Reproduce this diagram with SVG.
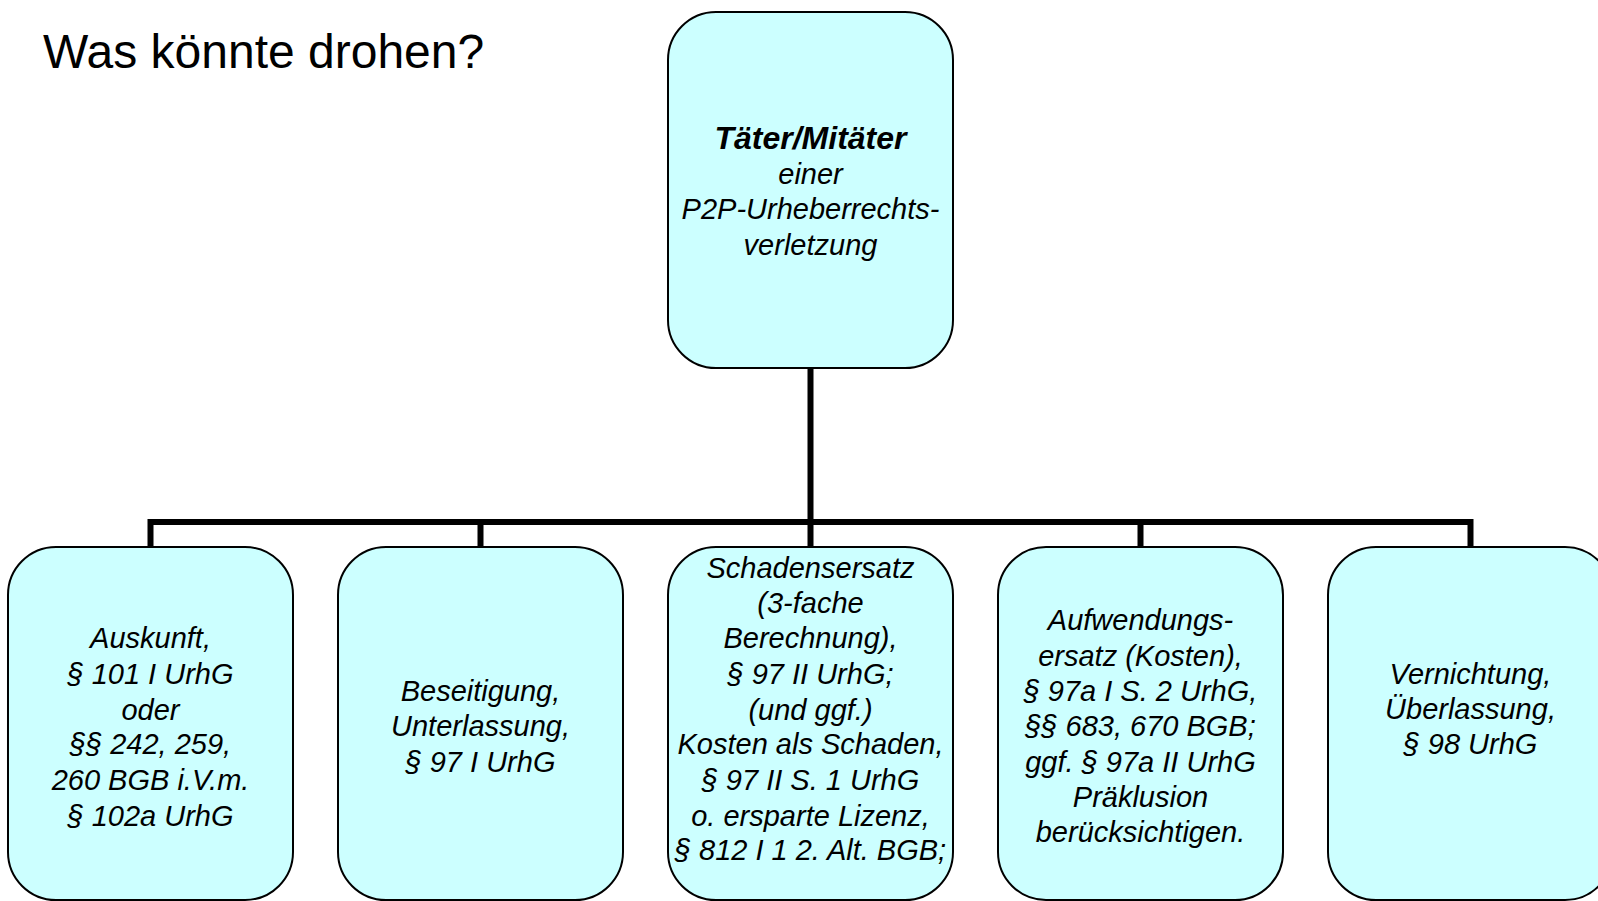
<svg xmlns="http://www.w3.org/2000/svg" width="1598" height="901" viewBox="0 0 1598 901">
<style>
.box{fill:#CCFFFF;stroke:#000;stroke-width:2}
.t{font-family:"Liberation Sans",Arial,sans-serif;font-size:29px;font-style:italic;text-anchor:middle;fill:#000}
.b{font-weight:bold;font-size:32px}
.title{font-family:"Liberation Sans",Arial,sans-serif;font-size:48px;fill:#000}
.c{fill:none;stroke:#000;stroke-width:6;stroke-linejoin:miter}
</style>
<rect width="1598" height="901" fill="#fff"/>
<text class="title" x="43" y="68">Was könnte drohen?</text>
<g id="connectors">
<path class="c" d="M810.5 368 V522"/>
<path class="c" d="M150.5 547 V522 H1470.5 V547"/>
<path class="c" d="M480.5 522 V547 M810.5 522 V547 M1140.5 522 V547"/>
</g>
<g id="root">
<rect class="box" x="668" y="12" width="285" height="356" rx="48"/>
<text class="t" x="810.5" y="148.5"><tspan class="b">Täter/Mitäter</tspan><tspan x="810.5" y="184">einer</tspan><tspan x="810.5" y="219">P2P-Urheberrechts-</tspan><tspan x="810.5" y="254.5">verletzung</tspan></text>
</g>
<g id="auskunft">
<rect class="box" x="8" y="547" width="285" height="353" rx="48"/>
<text class="t" x="150.5" y="648">Auskunft,<tspan x="150.5" y="684">§ 101 I UrhG</tspan><tspan x="150.5" y="720">oder</tspan><tspan x="150.5" y="754">§§ 242, 259,</tspan><tspan x="150.5" y="790">260 BGB i.V.m.</tspan><tspan x="150.5" y="826">§ 102a UrhG</tspan></text>
</g>
<g id="beseitigung">
<rect class="box" x="338" y="547" width="285" height="353" rx="48"/>
<text class="t" x="480.5" y="701">Beseitigung,<tspan x="480.5" y="736">Unterlassung,</tspan><tspan x="480.5" y="772">§ 97 I UrhG</tspan></text>
</g>
<g id="schadensersatz">
<rect class="box" x="668" y="547" width="285" height="353" rx="48"/>
<text class="t" x="810.5" y="578">Schadensersatz<tspan x="810.5" y="613">(3-fache</tspan><tspan x="810.5" y="648">Berechnung),</tspan><tspan x="810.5" y="684">§ 97 II UrhG;</tspan><tspan x="810.5" y="720">(und ggf.)</tspan><tspan x="810.5" y="754">Kosten als Schaden,</tspan><tspan x="810.5" y="790">§ 97 II S. 1 UrhG</tspan><tspan x="810.5" y="826">o. ersparte Lizenz,</tspan><tspan x="810.5" y="860">§ 812 I 1 2. Alt. BGB;</tspan></text>
</g>
<g id="aufwendungsersatz">
<rect class="box" x="998" y="547" width="285" height="353" rx="48"/>
<text class="t" x="1140.5" y="630">Aufwendungs-<tspan x="1140.5" y="666">ersatz (Kosten),</tspan><tspan x="1140.5" y="701">§ 97a I S. 2 UrhG,</tspan><tspan x="1140.5" y="736">§§ 683, 670 BGB;</tspan><tspan x="1140.5" y="772">ggf. § 97a II UrhG</tspan><tspan x="1140.5" y="807">Präklusion</tspan><tspan x="1140.5" y="842">berücksichtigen.</tspan></text>
</g>
<g id="vernichtung">
<rect class="box" x="1328" y="547" width="285" height="353" rx="48"/>
<text class="t" x="1470.5" y="684">Vernichtung,<tspan x="1470.5" y="719">Überlassung,</tspan><tspan x="1470.5" y="754">§ 98 UrhG</tspan></text>
</g>
</svg>
